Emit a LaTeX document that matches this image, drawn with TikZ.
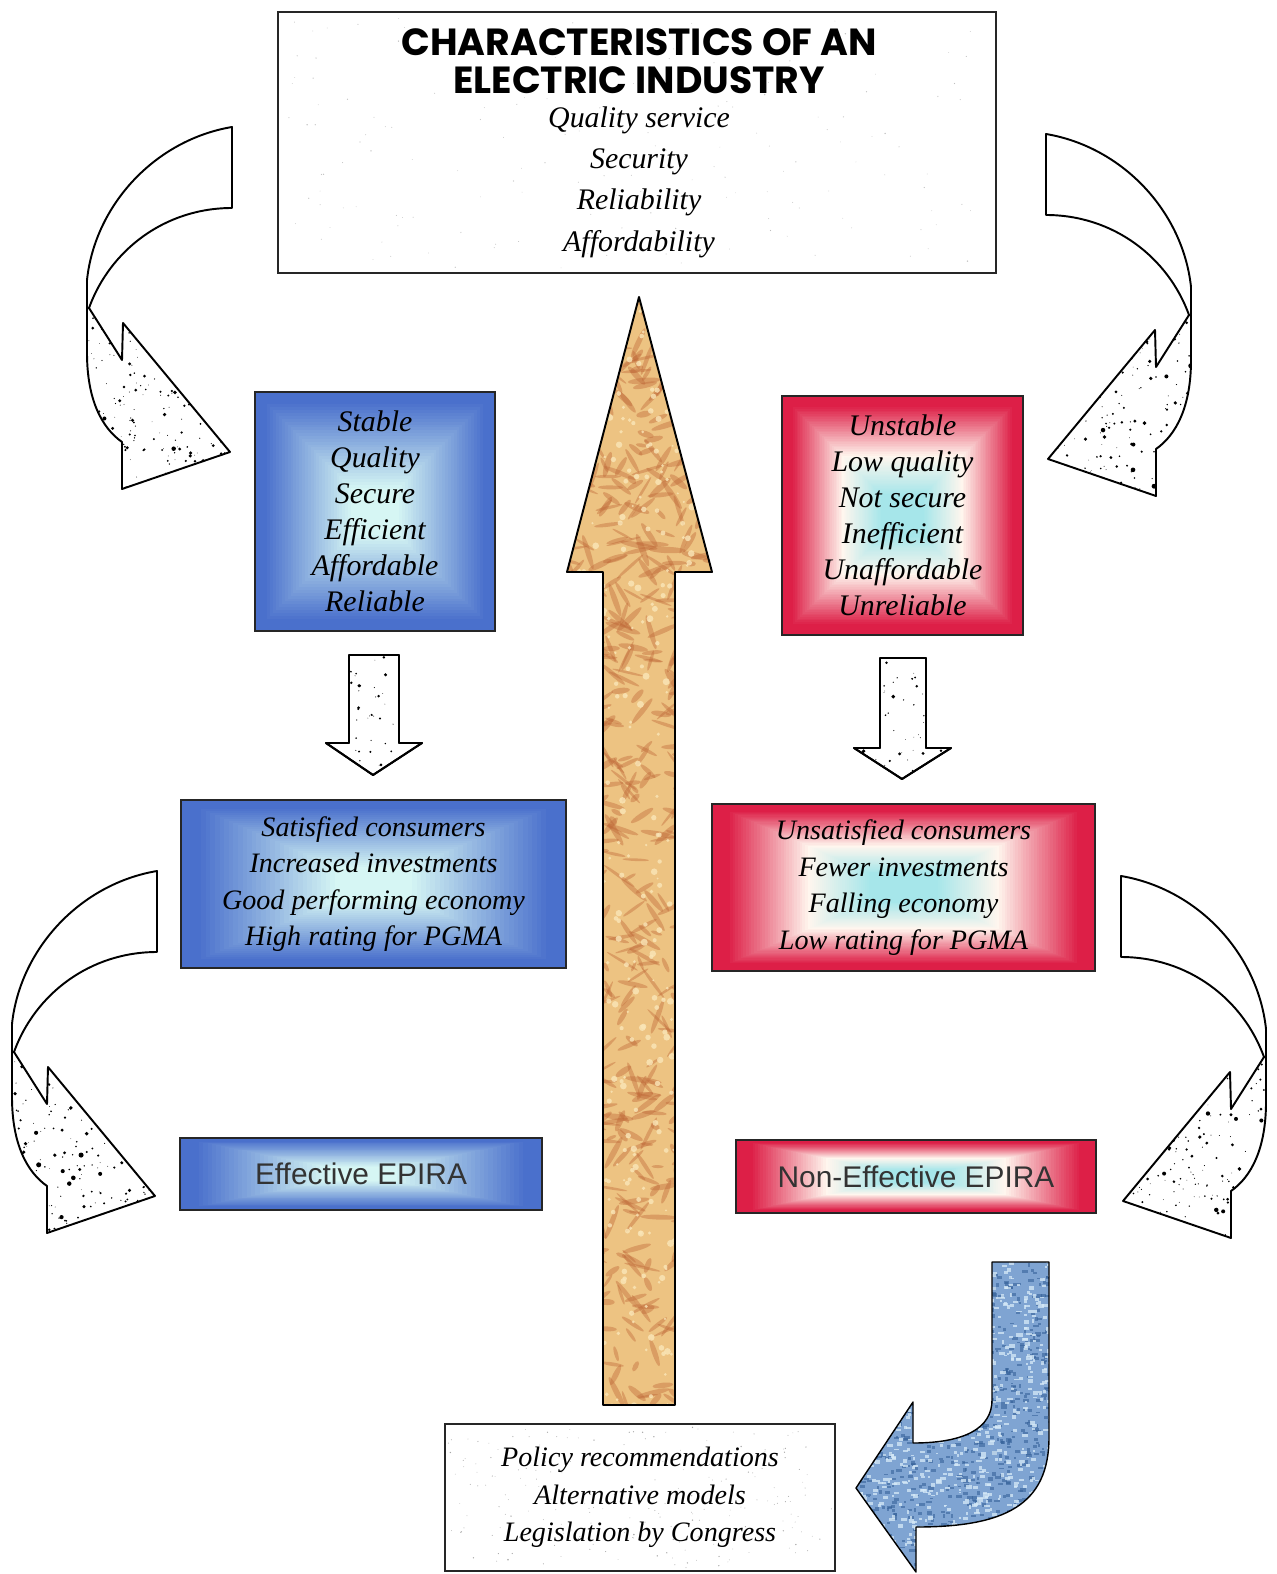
\documentclass[tikz,border=0pt]{standalone}
\usepackage{fontspec}
\setmainfont{Liberation Serif}
\newfontfamily\titlefont{Poppins}
\newfontfamily\epirafont{Liberation Sans}
\definecolor{boxblue}{HTML}{4A70CC}
\definecolor{bluelight}{HTML}{D6F6F4}
\definecolor{boxred}{HTML}{DD1F47}
\definecolor{redwhite}{HTML}{FFF6EE}
\definecolor{redcyan}{HTML}{A6E6EA}
\definecolor{woodbase}{HTML}{EDC382}
\definecolor{woodrust}{HTML}{BE6636}
\definecolor{woodlight}{HTML}{FAE6B8}
\definecolor{jbase}{HTML}{7FA4D2}
\definecolor{jdark}{HTML}{36629A}
\definecolor{jlight}{HTML}{D6EAF8}

% nested-rectangle gradient: x1 y1 x2 y2 colA colB t0 t1
\newcommand\gradrect[8]{%
  \foreach \k in {0,...,30}{%
    \pgfmathsetmacro\gT{#7+(#8-#7)*\k/30}%
    \pgfmathsetmacro\gP{100*\k/30}%
    \pgfmathsetmacro\gX{(#3-#1)/2*\gT}%
    \pgfmathsetmacro\gY{(#4-#2)/2*\gT}%
    \fill[color=#6!\gP!#5] ({#1+\gX},{#2+\gY}) rectangle ({#3-\gX},{#4-\gY});%
  }}
\newcommand\blueback[4]{%
  \fill[boxblue] (#1,#2) rectangle (#3,#4);
  \gradrect{#1}{#2}{#3}{#4}{boxblue}{bluelight}{0.08}{0.8}}
\newcommand\redback[4]{%
  \fill[boxred] (#1,#2) rectangle (#3,#4);
  \gradrect{#1}{#2}{#3}{#4}{boxred}{redwhite}{0.08}{0.5}
  \gradrect{#1}{#2}{#3}{#4}{redwhite}{redcyan}{0.5}{0.82}}
% random specks: x1 y1 x2 y2 n colour size
\newcommand\speckle[7]{%
  \foreach \k in {1,...,#5}{%
    \pgfmathsetmacro\sX{#1+rnd*(#3-#1)}%
    \pgfmathsetmacro\sY{#2+rnd*(#4-#2)}%
    \pgfmathsetmacro\sR{0.35+rnd*rnd*#7}%
    \fill[#6] (\sX,\sY) circle[radius=\sR];}}

\newcommand\bandpath{(232,127) .. controls (155,140) and (95,205) .. (87,280) -- (87,308) -- (89,308) .. controls (110,250) and (165,208) .. (232,208) -- cycle}
\newcommand\headpath{(89,308) -- (122,360) -- (123,323) -- (230,452) -- (122,489) -- (122,442) .. controls (102,428) and (87,400) .. (87,353) -- (87,308) -- cycle}
\newcommand\curvedarrow[1]{%
  \filldraw[outl, fill=white] \bandpath;
  \begin{scope}
    \clip \headpath;
    \fill[white] (80,300) rectangle (235,495);
    \pgfmathsetseed{#1}
    \speckle{85}{305}{232}{492}{230}{black}{2.4}
  \end{scope}
  \draw[outl] \headpath;}

\newcommand\centerpath{(639,297) -- (712,572) -- (675,572) -- (675,1405) -- (603,1405) -- (603,572) -- (567,572) -- cycle}
\newcommand\jpath{(992,1262) -- (1049,1262) -- (1049,1437) .. controls (1049,1505) and (1005,1527) .. (916,1527) -- (916,1572) -- (856,1488) -- (913,1402) -- (913,1443) .. controls (965,1443) and (992,1428) .. (992,1400) -- cycle}
\newcommand\downleft{(349,655) -- (399,655) -- (399,743) -- (422,743) -- (373,775) -- (326,743) -- (349,743) -- cycle}
\newcommand\downright{(880,658) -- (926,658) -- (926,748) -- (951,748) -- (902,779) -- (854,748) -- (880,748) -- cycle}

\begin{document}
\begin{tikzpicture}[x=0.02cm, y=-0.02cm,
  outl/.style={draw=black, line width=1.1pt, line join=round},
  boxnode/.style={draw=black!85, line width=0.7pt, inner sep=0pt, align=center},
  listfont/.style={font=\fontsize{17}{20.5}\selectfont\itshape},
  widefont/.style={font=\fontsize{16}{20.8}\selectfont\itshape},
  epira/.style={font=\epirafont\fontsize{17}{20}\selectfont, text=black!80}]

\useasboundingbox (0,0) rectangle (1276,1574);
\fill[white] (0,0) rectangle (1276,1574);

% ---------- top box ----------
\pgfmathsetseed{3}
\speckle{285}{18}{990}{268}{160}{black!25}{0.5}
\node[boxnode, line width=1.1pt, minimum width=14.36cm, minimum height=5.22cm] (topbox) at (637,142.5) {};
\node[font=\titlefont\bfseries\fontsize{21.5}{21.6}\selectfont, align=center] (title) at (639,61) {CHARACTERISTICS OF AN\\ELECTRIC INDUSTRY};
\node[font=\fontsize{17}{23.5}\selectfont\itshape, align=center] (charlist) at (639,182) {Quality service\\Security\\Reliability\\Affordability};

% ---------- curved arrows ----------
\curvedarrow{11}
\begin{scope}[shift={(-75,744)}]
  \curvedarrow{12}
\end{scope}
\begin{scope}[shift={(1278,7)}, xscale=-1]
  \curvedarrow{13}
\end{scope}
\begin{scope}[shift={(1353,749)}, xscale=-1]
  \curvedarrow{14}
\end{scope}

% ---------- level 1 boxes ----------
\blueback{255}{392}{495}{631}
\node[boxnode, listfont, minimum width=4.8cm, minimum height=4.78cm] (good1) at (375,511.5)
  {Stable\\Quality\\Secure\\Efficient\\Affordable\\Reliable};
\redback{782}{396}{1023}{635}
\node[boxnode, listfont, minimum width=4.82cm, minimum height=4.78cm] (bad1) at (902.5,515.5)
  {Unstable\\Low quality\\Not secure\\Inefficient\\Unaffordable\\Unreliable};

% ---------- down arrows ----------
\filldraw[outl, fill=white] \downleft;
\begin{scope}\clip \downleft; \pgfmathsetseed{21}\speckle{326}{655}{422}{775}{70}{black}{2}\end{scope}
\draw[outl] \downleft;
\filldraw[outl, fill=white] \downright;
\begin{scope}\clip \downright; \pgfmathsetseed{22}\speckle{854}{658}{951}{779}{70}{black}{2}\end{scope}
\draw[outl] \downright;

% ---------- level 2 boxes ----------
\blueback{181}{800}{566}{968}
\node[boxnode, widefont, minimum width=7.7cm, minimum height=3.36cm] (good2) at (373.5,884)
  {Satisfied consumers\\Increased investments\\Good performing economy\\High rating for PGMA};
\redback{712}{804}{1095}{971}
\node[boxnode, widefont, minimum width=7.66cm, minimum height=3.34cm] (bad2) at (903.5,887.5)
  {Unsatisfied consumers\\Fewer investments\\Falling economy\\Low rating for PGMA};

% ---------- level 3 boxes ----------
\blueback{180}{1138}{542}{1210}
\node[boxnode, epira, minimum width=7.24cm, minimum height=1.44cm] (good3) at (361,1174) {Effective EPIRA};
\redback{736}{1140}{1096}{1213}
\node[boxnode, epira, minimum width=7.2cm, minimum height=1.46cm] (bad3) at (916,1176.5) {Non-Effective EPIRA};

% ---------- central arrow ----------
\begin{scope}
  \clip \centerpath;
  \fill[woodbase] (560,290) rectangle (720,1410);
  \pgfmathsetseed{7}
  \foreach \k in {1,...,650}{%
    \pgfmathsetmacro\sX{562+rnd*155}%
    \pgfmathsetmacro\sY{292+rnd*1116}%
    \pgfmathsetmacro\sA{-75+rnd*150}%
    \pgfmathsetmacro\sL{5+rnd*14}%
    \pgfmathsetmacro\sW{1.2+rnd*2}%
    \fill[woodrust, opacity=0.4, rotate around={\sA:(\sX,\sY)}] (\sX,\sY) ellipse[x radius=\sL, y radius=\sW];}
  \foreach \k in {1,...,450}{%
    \pgfmathsetmacro\sX{562+rnd*155}%
    \pgfmathsetmacro\sY{292+rnd*1116}%
    \pgfmathsetmacro\sL{1+rnd*2.5}%
    \fill[woodlight, opacity=0.8] (\sX,\sY) circle[radius=\sL];}
\end{scope}
\draw[outl] \centerpath;

% ---------- blue J arrow ----------
\begin{scope}
  \clip \jpath;
  \fill[jbase] (850,1255) rectangle (1055,1576);
  \pgfmathsetseed{5}
  \foreach \k in {1,...,900}{%
    \pgfmathsetmacro\sX{852+rnd*200}%
    \pgfmathsetmacro\sY{1258+rnd*318}%
    \pgfmathsetmacro\sL{2+rnd*4}%
    \pgfmathsetmacro\sW{1.5+rnd*2.5}%
    \fill[jdark, opacity=0.6] (\sX,\sY) rectangle ++(\sL,\sW);}
  \foreach \k in {1,...,900}{%
    \pgfmathsetmacro\sX{852+rnd*200}%
    \pgfmathsetmacro\sY{1258+rnd*318}%
    \pgfmathsetmacro\sL{2+rnd*4}%
    \pgfmathsetmacro\sW{1.5+rnd*2.5}%
    \fill[jlight, opacity=0.75] (\sX,\sY) rectangle ++(\sL,\sW);}
\end{scope}
\draw[outl, line width=0.8pt] \jpath;

% ---------- bottom box ----------
\pgfmathsetseed{9}
\speckle{448}{1427}{832}{1568}{220}{black!35}{0.6}
\node[boxnode, line width=0.9pt, font=\fontsize{16}{21.3}\selectfont\itshape, minimum width=7.8cm, minimum height=2.94cm] (policy) at (640,1497.5)
  {Policy recommendations\\Alternative models\\Legislation by Congress};

\end{tikzpicture}
\end{document}
